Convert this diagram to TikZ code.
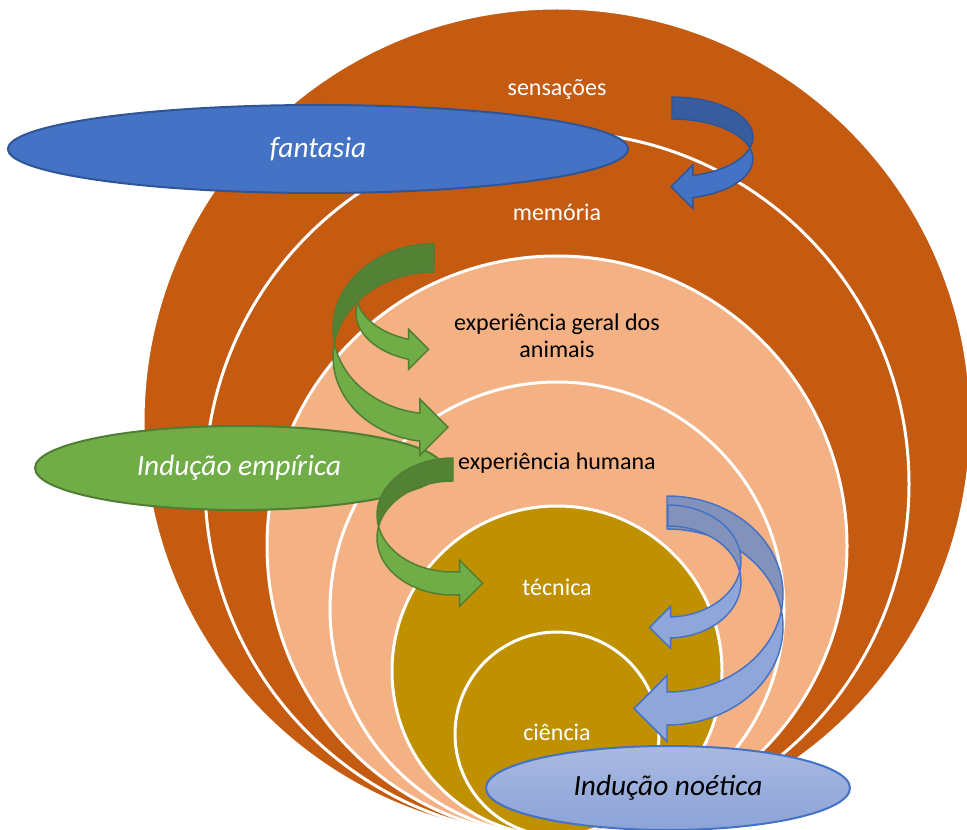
\documentclass[tikz,border=0pt]{standalone}
\usepackage{fontspec}
\setmainfont{Carlito}
\usepackage{xcolor}
\usepackage{tikz}
\usetikzlibrary{shapes.geometric}

\definecolor{rust}{HTML}{C55A11}
\definecolor{peach}{HTML}{F4B183}
\definecolor{ochre}{HTML}{BF9000}
\definecolor{fantback}{HTML}{385D9F}
\definecolor{fantfront}{HTML}{4472C4}
\definecolor{fantline}{HTML}{2F5597}
\definecolor{empback}{HTML}{548235}
\definecolor{empfront}{HTML}{70AD47}
\definecolor{empline}{HTML}{507E32}
\definecolor{noeback}{HTML}{8392BC}
\definecolor{noefront}{HTML}{8FA6DA}
\definecolor{noeline}{HTML}{4472C4}
\definecolor{noetop}{HTML}{A9B9E1}
\definecolor{noebottom}{HTML}{8CA3D8}

% curled band arrow: top of the turn (#1,#2), radii #3 and #4, band #5,
% end angle #6, side #7 (1 turns right, -1 turns left), colour set #8
\newcommand{\turnarrow}[8]{%
  \pgfmathsetmacro{\tcross}{asin(#5/(2*#4))}
  % back half of the band
  \filldraw[fill=#8back, draw=#8line, line width=1.1pt]
    (#1,#2) arc[start angle=-90, end angle=\tcross, x radius={(#7)*#3}, y radius=#4]
    arc[start angle=-\tcross, end angle=-90, x radius={(#7)*#3}, y radius=#4] -- cycle;
  % front half with the head
  \filldraw[fill=#8front, draw=#8line, line width=1.1pt]
    ({#1+(#7)*#3*cos(\tcross)},{#2+#4+#5/2})
    arc[start angle=-\tcross, end angle=#6, x radius={(#7)*#3}, y radius=#4]
    -- ++(0,#5/2) -- ++({-(#7)*#5},{-#5}) -- ++({(#7)*#5},{-#5}) -- ++(0,#5/2)
    arc[start angle=#6, end angle=\tcross, x radius={(#7)*#3}, y radius=#4] -- cycle;
}

\begin{document}
\begin{tikzpicture}[x=0.75pt, y=-0.75pt,
  ring/.style={draw=white, line width=2.25pt},
  lbl/.style={font=\fontsize{18}{20}\selectfont, align=center, inner sep=0pt},
  blob/.style={ellipse, inner sep=0pt, line width=1.5pt,
               font=\fontsize{22}{26}\selectfont\itshape}]
  \useasboundingbox (0,0) rectangle (967,830);
  \clip (0,0) rectangle (967,830);
  % nested rings, all touching at the bottom
  \filldraw[ring, fill=rust]  (557,422) circle[radius=414];
  \filldraw[ring, fill=rust]  (557,484) circle[radius=352];
  \filldraw[ring, fill=peach] (557,546) circle[radius=290];
  \filldraw[ring, fill=peach] (557,609) circle[radius=227];
  \filldraw[ring, fill=ochre] (557,671) circle[radius=165];
  \filldraw[ring, fill=ochre] (557,734) circle[radius=102];
  % fantasia
  \node[blob, fill=fantfront, draw=fantline, text=white,
        minimum width=465pt, minimum height=66pt] (fant) at (318,149) {fantasia};
  \turnarrow{672}{97}{81}{40}{22}{75}{1}{fant}
  % inducao empirica
  \node[blob, fill=empfront, draw=empline, text=white,
        minimum width=306pt, minimum height=63pt] (emp) at (239,468) {Indução empírica};
  \turnarrow{434}{244}{78}{49}{20}{71}{-1}{emp}
  \turnarrow{434}{244}{101}{85}{28}{82}{-1}{emp}
  \turnarrow{453}{458}{76}{57}{23}{95}{-1}{emp}
  % inducao noetica
  \turnarrow{667}{496}{116}{98}{33}{90}{1}{noe}
  \turnarrow{668}{505}{73}{56}{21}{88}{1}{noe}
  \node[blob, top color=noetop, bottom color=noebottom, draw=noeline, text=black,
        minimum width=273pt, minimum height=63pt] (noe) at (668,788) {Indução noética};
  % ring labels
  \node[lbl, text=white] (sens) at (557,90) {sensações};
  \node[lbl, text=white] (mem) at (557,212) {memória};
  \node[lbl] (geral) at (557,336) {experiência geral dos\\animais};
  \node[lbl] (hum) at (557,463) {experiência humana};
  \node[lbl, text=white] (tec) at (557,587) {técnica};
  \node[lbl, text=white] (cien) at (557,732) {ciência};
\end{tikzpicture}
\end{document}
